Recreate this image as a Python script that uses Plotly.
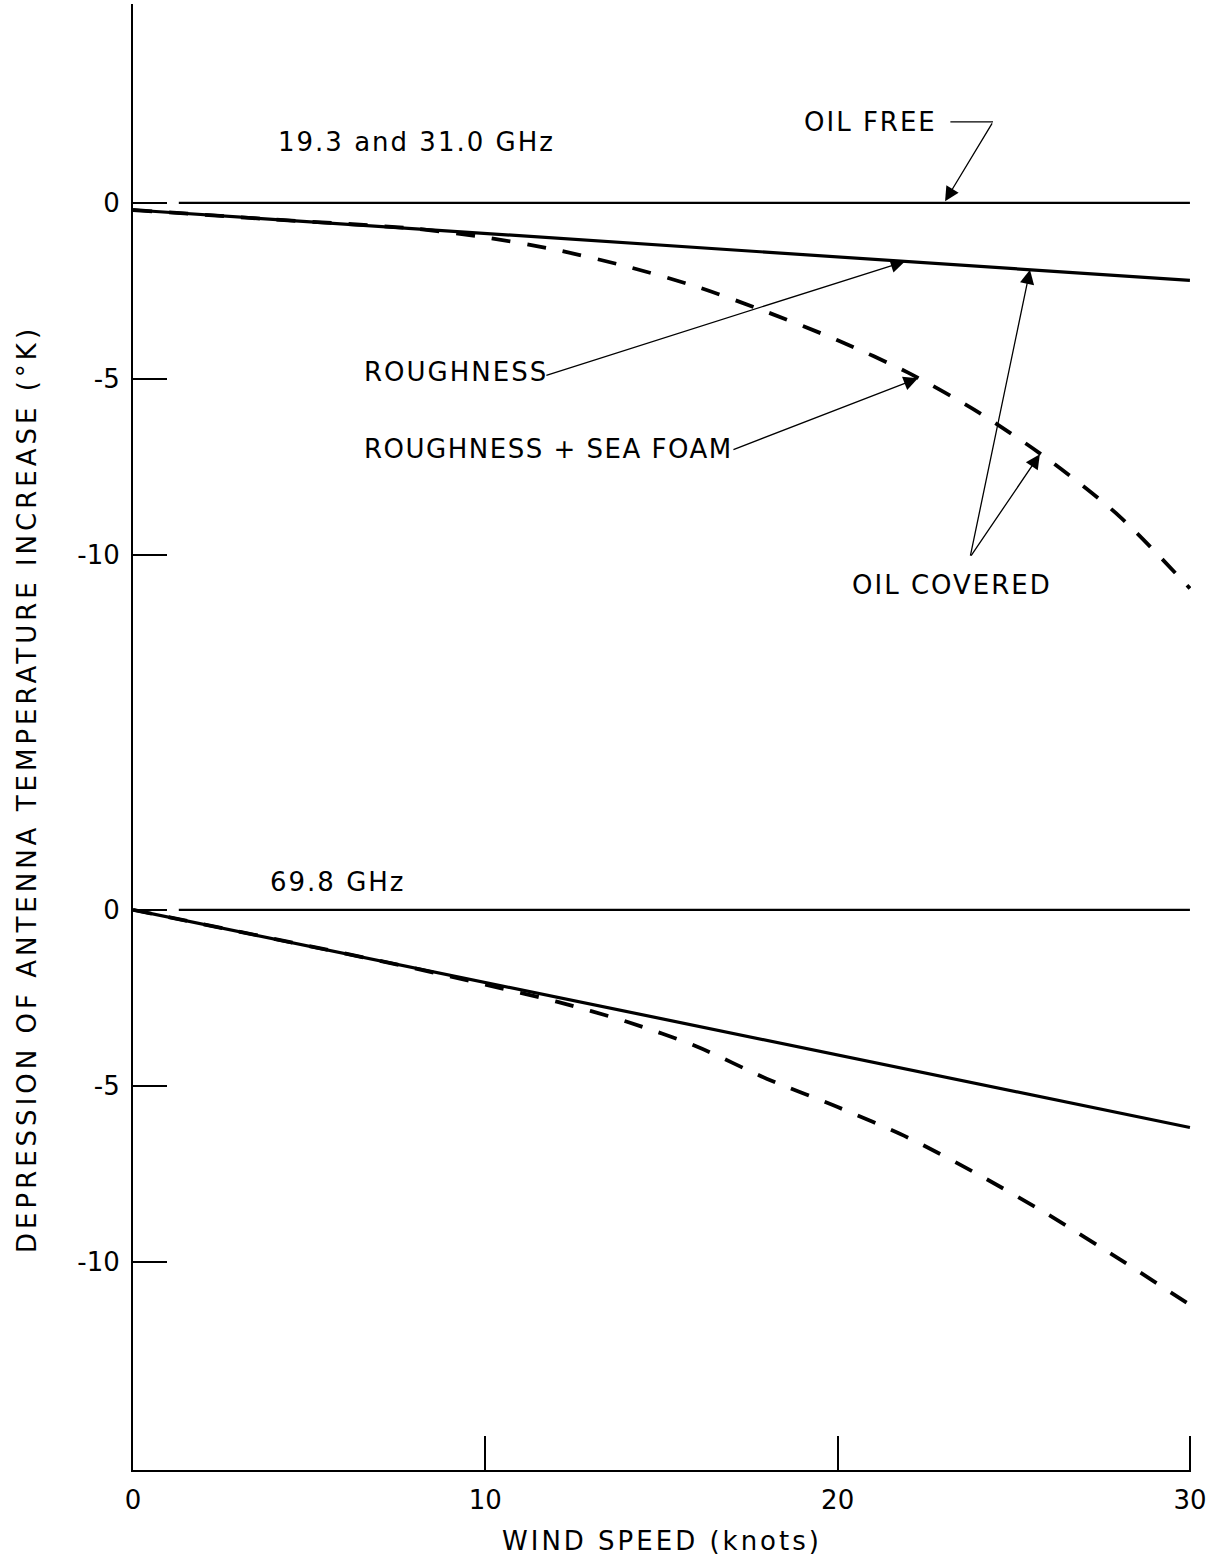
import plotly.graph_objects as go

# ---- data -------------------------------------------------------------
# wind speed (knots)
wind_free = [1.3, 30]
wind_rough = [0, 10, 20, 30]
wind_foam = [0, 4, 8, 10, 12, 14, 16, 18, 20, 22, 24, 26, 28, 30]

# 19.3 and 31.0 GHz : depression of antenna temperature increase (deg K)
hi_free = [0, 0]
hi_rough = [-0.2, -0.87, -1.53, -2.2]
hi_foam = [-0.2, -0.47, -0.73, -0.98, -1.33, -1.8, -2.38, -3.1, -3.9,
           -4.82, -5.95, -7.3, -8.9, -10.95]

# 69.8 GHz
lo_free = [0, 0]
lo_rough = [0, -2.06, -4.12, -6.18]
lo_foam = [0, -0.82, -1.66, -2.12, -2.6, -3.17, -3.88, -4.8, -5.6,
           -6.47, -7.52, -8.67, -9.92, -11.22]

x_ticks = [0, 10, 20, 30]
x_tick_labels = ["0", "10", "20", "30"]
y_ticks = [0, -5, -10]
y_tick_labels = ["0", "-5", "-10"]

# ---- styling ----------------------------------------------------------
FONT = "DejaVu Sans"
INK = "#000000"


def spaced(text, px):
    return f'<span style="letter-spacing:{px}px">{text}</span>'


fig = go.Figure()

panels = [
    ("y", hi_free, hi_rough, hi_foam),
    ("y2", lo_free, lo_rough, lo_foam),
]
for yref, free, rough, foam in panels:
    fig.add_trace(go.Scatter(x=wind_free, y=free, mode="lines", yaxis=yref,
                             line=dict(color=INK, width=2.2), hoverinfo="skip"))
    fig.add_trace(go.Scatter(x=wind_foam, y=foam, mode="lines", yaxis=yref,
                             line=dict(color=INK, width=3.8, dash="19px,17px",
                                       shape="spline", smoothing=0.8),
                             hoverinfo="skip"))
    fig.add_trace(go.Scatter(x=wind_rough, y=rough, mode="lines", yaxis=yref,
                             line=dict(color=INK, width=3.2), hoverinfo="skip"))

axis_common = dict(
    showline=True, linecolor=INK, linewidth=2, mirror=False,
    ticks="inside", ticklen=34, tickwidth=1.5, tickcolor=INK,
    showgrid=False, zeroline=False,
    tickfont=dict(family=FONT, size=26, color=INK),
)

fig.update_layout(
    width=1219, height=1557,
    margin=dict(l=133, r=28, t=4, b=87),
    paper_bgcolor="white", plot_bgcolor="white",
    showlegend=False,
    xaxis=dict(range=[0, 30.03], anchor="y2", tickvals=x_ticks,
               ticktext=x_tick_labels, ticklabelstandoff=6, **axis_common),
    yaxis=dict(domain=[0.5014, 1], range=[-15.11, 5.65], anchor="x",
               tickvals=y_ticks, ticktext=y_tick_labels,
               ticklabelstandoff=6, **axis_common),
    yaxis2=dict(domain=[0, 0.5014], range=[-15.91, 4.97], anchor="x",
                tickvals=y_ticks, ticktext=y_tick_labels,
                ticklabelstandoff=6, **axis_common),
)

label_font = dict(family=FONT, size=26, color=INK)


def label(text, x, y, yref="y", ls=2):
    fig.add_annotation(text=spaced(text, ls), x=x, y=y, xref="x", yref=yref,
                       xanchor="left", yanchor="middle", showarrow=False,
                       font=label_font)


def pointer(x0, y0, x1, y1, yref="y"):
    fig.add_annotation(x=x1, y=y1, ax=x0, ay=y0, xref="x", yref=yref,
                       axref="x", ayref=yref, text="", showarrow=True,
                       arrowhead=2, arrowsize=2.2, arrowwidth=1.3,
                       arrowcolor=INK, standoff=0, startstandoff=0)


# panel captions
label("19.3 and 31.0 GHz", 4.06, 1.73)
label("69.8 GHz", 3.83, 0.80, yref="y2")

# curve call-outs
label("OIL FREE", 18.99, 2.30)
fig.add_shape(type="line", x0=23.2, y0=2.30, x1=24.41, y1=2.30,
              xref="x", yref="y", line=dict(color=INK, width=1.3))
pointer(24.41, 2.30, 23.05, 0.05)

label("ROUGHNESS", 6.5, -4.80)
pointer(11.69, -4.91, 21.91, -1.66)

label("ROUGHNESS + SEA FOAM", 6.5, -6.99, ls=1.5)
pointer(17.0, -7.02, 22.28, -4.98)

label("OIL COVERED", 20.35, -10.85)
pointer(23.76, -10.06, 25.46, -1.90)
pointer(23.76, -10.06, 25.74, -7.14)

# axis titles
fig.add_annotation(text=spaced("WIND SPEED (knots)", 3), xref="paper",
                   yref="paper", x=0.5, y=(1470 - 1541) / 1466,
                   xanchor="center", yanchor="middle", showarrow=False,
                   font=label_font)
fig.add_annotation(text=spaced("DEPRESSION OF ANTENNA TEMPERATURE INCREASE (°K)", 4),
                   xref="paper", yref="paper", x=(27 - 133) / 1058,
                   y=(1470 - 789) / 1466, textangle=-90,
                   xanchor="center", yanchor="middle", showarrow=False,
                   font=label_font)

fig.write_html("out.html")
